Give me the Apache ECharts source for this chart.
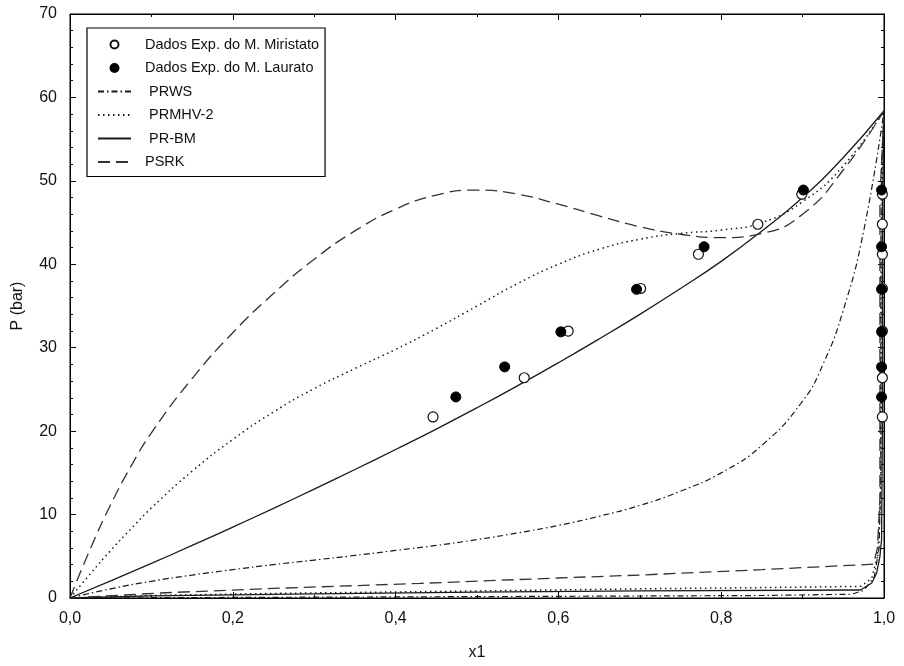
<!DOCTYPE html>
<html>
<head>
<meta charset="utf-8">
<script src="https://cdn.jsdelivr.net/npm/echarts@6/dist/echarts.min.js"></script>
<style>
html,body{margin:0;padding:0;background:#fff;}
#chart{width:904px;height:666px;}
</style>
</head>
<body>
<div id="chart"></div>
<script>
// ---- Data ----
// Experimental: methyl myristate (open circles)
var mirLiqX = [0.446, 0.558, 0.612, 0.701, 0.772, 0.845, 0.899];
var mirP    = [21.7, 26.4, 32.0, 37.1, 41.2, 44.8, 48.4];
var mirVapX = [0.998, 0.998, 0.998, 0.998, 0.998, 0.998, 0.998];
// Experimental: methyl laurate (filled circles)
var lauLiqX = [0.474, 0.534, 0.603, 0.696, 0.779, 0.901];
var lauP    = [24.1, 27.7, 31.9, 37.0, 42.1, 48.9];
var lauVapX = [0.997, 0.997, 0.997, 0.997, 0.997, 0.997];

// Model bubble curves (x1, P)
var prwsX = [0, 0.05, 0.1, 0.15, 0.2, 0.25, 0.3, 0.35, 0.4, 0.45, 0.5, 0.55, 0.6, 0.65, 0.7, 0.75, 0.8, 0.85, 0.9, 0.925, 0.95, 0.975, 1.0];
var prwsP = [0, 1.1, 2.0, 2.75, 3.4, 4.0, 4.55, 5.1, 5.7, 6.3, 7.0, 7.8, 8.7, 9.8, 11.1, 12.8, 15.0, 18.3, 23.6, 28.0, 34.5, 44.0, 58.4];
var mhvX  = [0, 0.025, 0.05, 0.075, 0.1, 0.15, 0.2, 0.25, 0.3, 0.35, 0.4, 0.45, 0.5, 0.55, 0.6, 0.65, 0.7, 0.75, 0.8, 0.85, 0.9, 0.95, 1.0];
var mhvP  = [0, 2.9, 5.7, 8.3, 10.8, 15.2, 19.0, 22.3, 25.1, 27.5, 29.8, 32.3, 35.0, 37.7, 40.0, 41.8, 43.0, 43.7, 44.1, 45.0, 47.5, 51.8, 58.4];
var prbmX = [0, 0.05, 0.1, 0.15, 0.2, 0.25, 0.3, 0.35, 0.4, 0.45, 0.5, 0.55, 0.6, 0.65, 0.7, 0.75, 0.8, 0.85, 0.9, 0.95, 1.0];
var prbmP = [0, 2.05, 4.15, 6.3, 8.5, 10.75, 13.05, 15.4, 17.8, 20.25, 22.8, 25.45, 28.2, 31.05, 34.0, 37.1, 40.35, 44.0, 48.0, 52.8, 58.4];
var psrkX = [0, 0.025, 0.05, 0.075, 0.1, 0.15, 0.2, 0.25, 0.3, 0.35, 0.4, 0.45, 0.5, 0.55, 0.6, 0.65, 0.7, 0.75, 0.8, 0.85, 0.9, 0.95, 1.0];
var psrkP = [0, 5.9, 11.2, 15.8, 19.8, 26.3, 31.8, 36.5, 40.6, 44.0, 46.6, 48.3, 48.9, 48.4, 47.2, 45.8, 44.5, 43.6, 43.2, 43.7, 46.0, 51.3, 58.4];

// Model dew curves (y1, P)
var prwsDewX = [0, 0.3, 0.6, 0.85, 0.96, 0.975, 0.988, 0.994, 0.996, 0.996, 0.997, 1.0];
var prwsDewP = [0, 0.1, 0.2, 0.3, 0.45, 0.9, 2.5, 6, 15, 40, 52, 58.4];
var mhvDewX  = [0, 0.1, 0.25, 0.467, 0.7, 0.85, 0.972, 0.985, 0.992, 0.996, 0.997, 0.998, 1.0];
var mhvDewP  = [0, 0.3, 0.55, 0.8, 1.1, 1.25, 1.4, 2.4, 5, 12, 30, 50, 58.4];
var prbmDewX = [0, 0.1, 0.3, 0.5, 0.7, 0.971, 0.985, 0.991, 0.995, 0.997, 0.998, 0.998, 1.0];
var prbmDewP = [0, 0.25, 0.5, 0.7, 0.85, 0.96, 1.8, 3.0, 5.0, 7.0, 20, 45, 58.4];
var psrkDewX = [0, 0.11, 0.25, 0.43, 0.6, 0.7, 0.85, 0.987, 0.992, 0.995, 0.995, 0.995, 1.0];
var psrkDewP = [0, 0.6, 1.15, 1.75, 2.4, 2.75, 3.4, 4.05, 6, 12, 30, 48, 58.4];

var xTicks = [0, 0.2, 0.4, 0.6, 0.8, 1.0];
var yTicks = [0, 10, 20, 30, 40, 50, 60, 70];

var scatterNames = ['Dados Exp. do M. Miristato', 'Dados Exp. do M. Laurato'];
var lineNames = ['PRWS', 'PRMHV-2', 'PR-BM', 'PSRK'];

function zip(xs, ys) { return xs.map(function (x, i) { return [x, ys[i]]; }); }

var FONT = '"Liberation Sans", Arial, sans-serif';
var INK = '#1a1a1a';

var dashDot = [6, 3, 1.5, 3];
var dotted = [1.5, 3.5];
var longDash = [12, 6];

function lineSeries(name, data, type, smooth, color, width) {
  return {
    name: name, type: 'line', data: data, symbol: 'none', smooth: smooth,
    lineStyle: { color: color, width: width, type: type },
    itemStyle: { color: color },
    z: 2, silent: true
  };
}

var chart = echarts.init(document.getElementById('chart'), null, { renderer: 'canvas' });

var axLine = { show: true, onZero: false, lineStyle: { color: '#000', width: 1 } };
var axTick = { show: true, inside: true, length: 6, lineStyle: { color: '#000' } };

var legendData = scatterNames.map(function (n) { return { name: n }; })
  .concat(lineNames.map(function (n) { return { name: n, itemStyle: { opacity: 0 } }; }));

var option = {
  animation: false,
  backgroundColor: '#fff',
  grid: { left: 70, right: 20, top: 14, bottom: 68, show: true, borderColor: '#000', borderWidth: 1 },
  legend: {
    data: legendData,
    orient: 'vertical',
    left: 87, top: 28,
    padding: [9, 6, 7, 10],
    itemWidth: 33, itemHeight: 8, itemGap: 8.5,
    backgroundColor: '#fff',
    borderColor: '#000', borderWidth: 1.2,
    textStyle: { fontFamily: FONT, fontSize: 14.5, color: '#111', padding: [0, 0, 0, 9] },
    formatter: function (n) { return (n === 'PRWS' || n === 'PRMHV-2' || n === 'PR-BM') ? ' ' + n : n; },
    selectedMode: false
  },
  xAxis: [
    {
      type: 'value', min: xTicks[0], max: xTicks[xTicks.length - 1], interval: 0.2,
      name: 'x1', nameLocation: 'middle', nameGap: 47,
      nameTextStyle: { fontFamily: FONT, fontSize: 16, color: '#111' },
      axisLine: axLine, axisTick: axTick,
      minorTick: { show: true, splitNumber: 2, length: 3, lineStyle: { color: '#000' } },
      axisLabel: { fontFamily: FONT, fontSize: 16, color: '#111', margin: 13,
        formatter: function (v) { return v.toFixed(1).replace('.', ','); } },
      splitLine: { show: false }
    },
    {
      type: 'value', position: 'top', min: 0, max: 1, interval: 0.2,
      axisLine: axLine, axisTick: axTick,
      minorTick: { show: true, splitNumber: 2, length: 3, lineStyle: { color: '#000' } },
      axisLabel: { show: false }, splitLine: { show: false }
    }
  ],
  yAxis: [
    {
      type: 'value', min: yTicks[0], max: yTicks[yTicks.length - 1], interval: 10,
      name: 'P (bar)', nameLocation: 'middle', nameGap: 44,
      nameTextStyle: { fontFamily: FONT, fontSize: 16, color: '#111' },
      axisLine: axLine, axisTick: axTick,
      minorTick: { show: true, splitNumber: 5, length: 3, lineStyle: { color: '#000' } },
      axisLabel: { fontFamily: FONT, fontSize: 16, color: '#111', margin: 13 },
      splitLine: { show: false }
    },
    {
      type: 'value', position: 'right', min: 0, max: 70, interval: 10,
      axisLine: axLine, axisTick: axTick,
      minorTick: { show: true, splitNumber: 5, length: 3, lineStyle: { color: '#000' } },
      axisLabel: { show: false }, splitLine: { show: false }
    }
  ],
  series: [
    lineSeries('PRWS', zip(prwsX, prwsP), dashDot, 0.5, INK, 1.2),
    lineSeries('PRWS-orvalho', zip(prwsDewX, prwsDewP), dashDot, false, INK, 1.2),
    lineSeries('PRMHV-2', zip(mhvX, mhvP), dotted, 0.5, INK, 1.5),
    lineSeries('PRMHV-2-orvalho', zip(mhvDewX, mhvDewP), dotted, false, INK, 1.5),
    lineSeries('PR-BM', zip(prbmX, prbmP), 'solid', 0.5, INK, 1.3),
    lineSeries('PR-BM-orvalho', zip(prbmDewX, prbmDewP), 'solid', false, INK, 1.3),
    lineSeries('PSRK', zip(psrkX, psrkP), longDash, 0.5, '#333', 1.3),
    lineSeries('PSRK-orvalho', zip(psrkDewX, psrkDewP), longDash, false, '#333', 1.3),
    {
      name: scatterNames[0], type: 'scatter', symbol: 'circle', symbolSize: 10,
      data: zip(mirLiqX, mirP).concat(zip(mirVapX, mirP)),
      itemStyle: { color: '#fff', borderColor: '#111', borderWidth: 1.2, opacity: 1 }, z: 5, silent: true
    },
    {
      name: scatterNames[1], type: 'scatter', symbol: 'circle', symbolSize: 10,
      data: zip(lauLiqX, lauP).concat(zip(lauVapX, lauP)),
      itemStyle: { color: '#000', borderColor: '#000', borderWidth: 1, opacity: 1 }, z: 6, silent: true
    }
  ]
};
chart.setOption(option);
</script>
</body>
</html>
